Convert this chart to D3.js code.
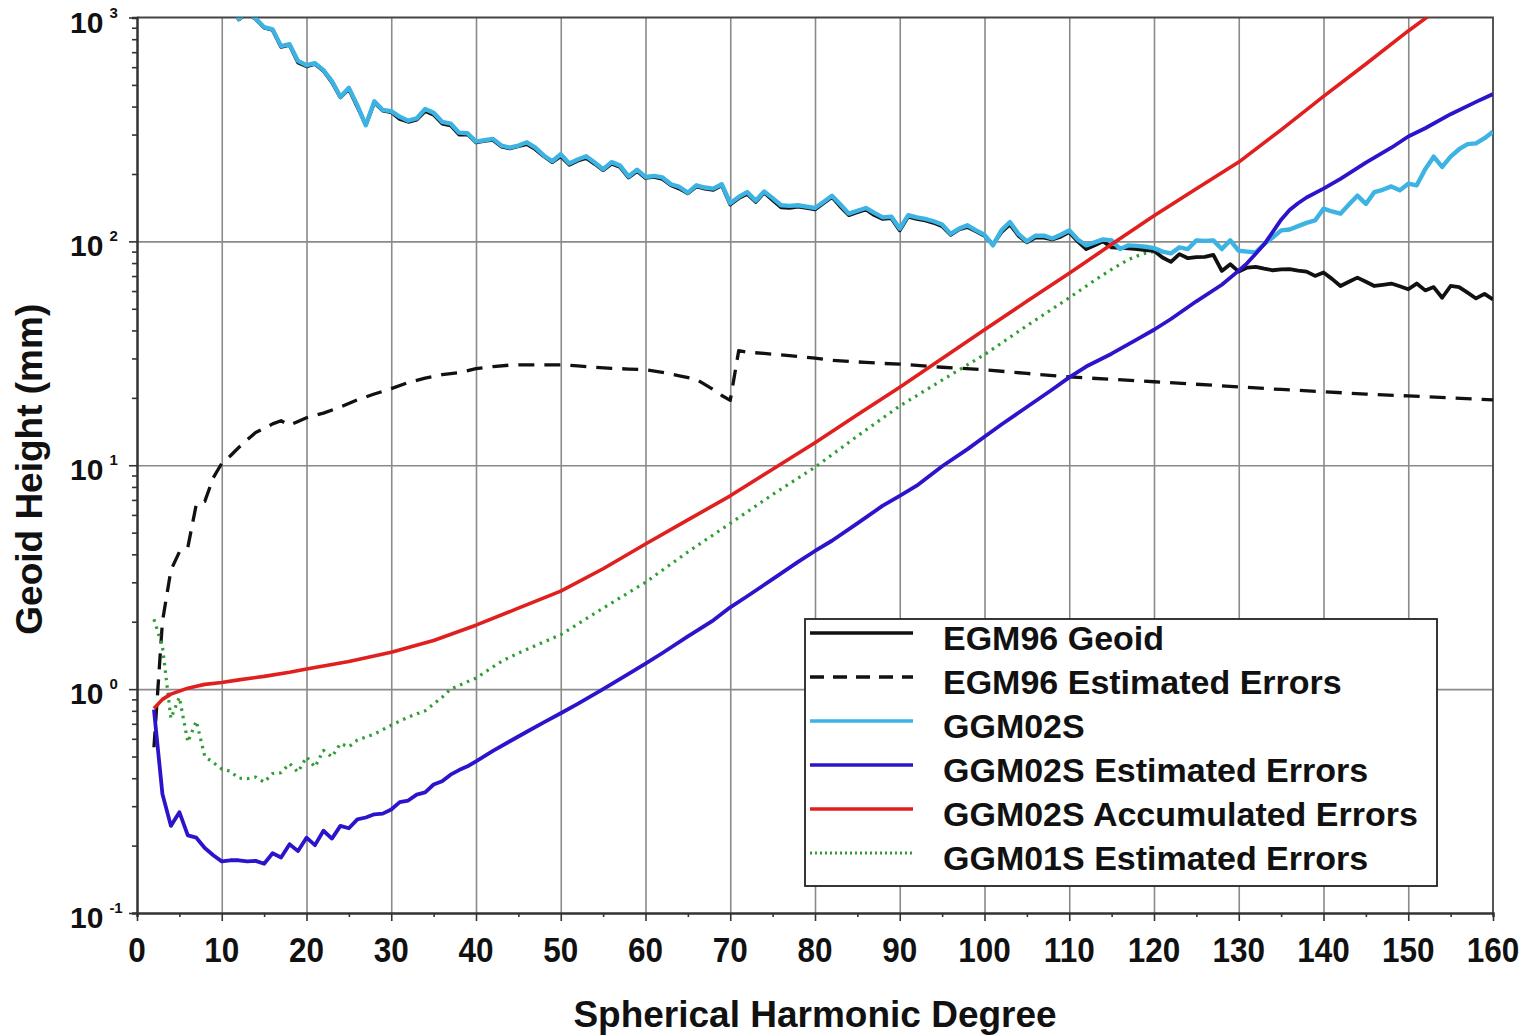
<!DOCTYPE html>
<html>
<head>
<meta charset="utf-8">
<script src="https://cdn.jsdelivr.net/npm/d3@7"></script>
<style>
  body { margin: 0; background: #fff; }
  text { font-family: "Liberation Sans", Arial, Helvetica, sans-serif; font-weight: bold; fill: #111; }
</style>
</head>
<body>
<div id="chart"></div>
<script>
// per-degree series start at degree 2
const firstDegree = 2;

const egm96Geoid = [
  20000, 9500, 5400, 4000, 3100, 2650, 2150, 1850, 1550, 1380,
  980, 1050, 985, 900, 880, 740, 755, 630, 605, 620,
  578, 515, 440, 480, 400, 332, 418, 384, 378, 352,
  342, 350, 382, 368, 336, 330, 300, 301, 277, 281,
  284, 265, 260, 266, 272, 258, 240, 226, 240, 220,
  229, 236, 222, 208, 222, 215, 193, 206, 192, 194,
  190, 178, 172, 164, 176, 172, 170, 178, 146, 156,
  163, 150, 165, 153, 142, 141, 143, 141, 139, 148,
  158, 143, 131, 135, 139, 131, 126, 127, 112, 129,
  126, 124, 121, 117, 107, 113, 116, 111, 106, 97,
  110, 119, 106, 99, 104, 104, 102, 105, 110, 100,
  92.4, 96, 100, 94, 93.5, 93, 92.4, 91.5, 90.8, 84.7,
  81, 87.7, 84.1, 85, 85.3, 87.1, 73.8, 79, 73.3, 76.4,
  76.9, 75.5, 74.3, 75, 75.1, 74, 73.3, 70.1, 72.6, 68,
  63.2, 66, 68.9, 66, 63.2, 64, 64.8, 63, 61.1, 64.8,
  60.4, 62.5, 56, 63.2, 62.5, 59, 55.6, 58.3, 55
];

const ggm02s = [
  18000, 9000, 5200, 3900, 3000, 2600, 2100, 1800, 1500, 1350,
  985, 1060, 990, 905, 885, 745, 760, 640, 612, 625,
  582, 520, 442, 485, 405, 330, 422, 386, 382, 360,
  346, 354, 390, 375, 342, 336, 306, 304, 279, 283,
  287, 268, 262, 268, 277, 262, 242, 228, 245, 223,
  232, 240, 225, 210, 226, 218, 195, 209, 194, 196,
  193, 180, 175, 165, 178, 174, 172, 180, 148, 158,
  166, 152, 167, 156, 145, 144, 145, 143, 141, 150,
  160, 146, 133, 137, 141, 134, 128, 129, 114, 131,
  128, 126, 123, 119, 108, 114, 118, 112, 107, 96,
  112, 122, 108, 100, 106, 106, 103, 107, 112, 102,
  96, 99, 102, 101, 92.5, 96, 95.5, 94.6, 93.3, 90,
  88.3, 94, 92.4, 101, 100.5, 101, 92.4, 101, 90.8, 90,
  89.3, 97.3, 104, 112, 113, 117, 121, 124, 140, 136,
  133, 146, 160, 147, 166, 170, 176, 169, 181, 178,
  210, 239, 215, 239, 258, 272, 274, 289, 309
];

// [degree, mm]
const egm96Errors = [
  [2, 0.55], [3, 2.0], [4, 3.4], [5, 4.1], [6, 4.3], [7, 6.7], [8, 6.9], [9, 8.8], [10, 10.2],
  [11, 11], [12, 12], [13, 13], [14, 14], [15, 14.6], [16, 15.3], [17, 15.8], [18, 15.1], [19, 15.7],
  [20, 16.3], [22, 17.1], [24, 18.2], [26, 19.6], [28, 20.8], [30, 22], [32, 23.4], [34, 24.5],
  [36, 25.4], [38, 25.9], [40, 27], [42, 27.6], [44, 28], [46, 28.1], [48, 28.1], [50, 28.1],
  [52, 27.8], [54, 27.4], [56, 27.1], [58, 26.9], [60, 26.7], [62, 26], [64, 25.1], [66, 24.2],
  [68, 21.8], [69, 20.5], [70, 19.5], [71, 32.5], [72, 32], [74, 31.6], [76, 31.1], [78, 30.6],
  [80, 30.1], [82, 29.4], [84, 29.1], [86, 28.8], [88, 28.5], [90, 28.3], [95, 27.4], [100, 26.7],
  [105, 25.7], [110, 24.8], [115, 24.2], [120, 23.6], [125, 23], [130, 22.4], [135, 21.8],
  [140, 21.3], [145, 20.8], [150, 20.4], [155, 20], [160, 19.6]
];

const ggm02sErrors = [
  [2, 0.81], [3, 0.34], [4, 0.245], [5, 0.282], [6, 0.222], [7, 0.217], [8, 0.195], [9, 0.181],
  [10, 0.170], [11, 0.172], [12, 0.172], [13, 0.170], [14, 0.171], [15, 0.166], [16, 0.185],
  [17, 0.177], [18, 0.203], [19, 0.189], [20, 0.217], [21, 0.201], [22, 0.233], [23, 0.215],
  [24, 0.245], [25, 0.239], [26, 0.262], [27, 0.267], [28, 0.276], [29, 0.278], [30, 0.29],
  [31, 0.313], [32, 0.318], [33, 0.338], [34, 0.346], [35, 0.375], [36, 0.388], [37, 0.415],
  [38, 0.435], [39, 0.452], [40, 0.476], [42, 0.53], [44, 0.585], [46, 0.645], [48, 0.71],
  [50, 0.78], [52, 0.86], [55, 1.0], [58, 1.17], [60, 1.30], [62, 1.45], [65, 1.72], [68, 2.03],
  [70, 2.32], [72, 2.6], [75, 3.1], [78, 3.7], [80, 4.14], [82, 4.6], [85, 5.5], [88, 6.6],
  [90, 7.3], [92, 8.1], [95, 9.9], [98, 11.8], [100, 13.4], [102, 15.2], [105, 18.2], [108, 21.8],
  [110, 24.7], [112, 27.6], [115, 31.5], [118, 36.5], [120, 40.3], [122, 45], [125, 54], [128, 64],
  [130, 74], [131, 80], [132, 88], [133, 97], [134, 110], [135, 125], [136, 138], [137, 148],
  [138, 157], [140, 172], [142, 190], [145, 225], [148, 262], [150, 294], [152, 320], [155, 370],
  [158, 420], [160, 455]
];

const ggm02sAccum = [
  [2, 0.82], [3, 0.9], [4, 0.95], [5, 0.98], [6, 1.01], [7, 1.03], [8, 1.05], [10, 1.07],
  [12, 1.1], [15, 1.14], [18, 1.19], [20, 1.23], [25, 1.33], [30, 1.46], [35, 1.65], [40, 1.93],
  [45, 2.3], [50, 2.74], [55, 3.45], [60, 4.45], [65, 5.7], [70, 7.3], [75, 9.6], [80, 12.6],
  [85, 16.8], [90, 22.3], [95, 30], [100, 40.3], [105, 54], [110, 72], [115, 97], [120, 130],
  [125, 172], [130, 226], [135, 315], [140, 444], [145, 620], [150, 871], [155, 1200]
];

const ggm01sErrors = [
  [2, 2.05], [3, 1.55], [4, 0.74], [5, 0.92], [6, 0.58], [7, 0.72], [8, 0.5], [9, 0.47],
  [10, 0.44], [11, 0.43], [12, 0.40], [13, 0.398], [14, 0.405], [15, 0.384], [16, 0.42],
  [17, 0.423], [18, 0.465], [19, 0.426], [20, 0.498], [21, 0.449], [22, 0.533], [23, 0.498],
  [24, 0.571], [25, 0.552], [26, 0.592], [28, 0.63], [30, 0.69], [32, 0.75], [34, 0.8],
  [36, 0.92], [37, 1.0], [39, 1.08], [40, 1.12], [43, 1.33], [45, 1.45], [50, 1.75], [55, 2.3],
  [60, 3.0], [65, 4.1], [70, 5.5], [75, 7.4], [80, 9.8], [85, 13.5], [90, 18.4], [95, 24],
  [100, 31.2], [105, 42], [110, 56], [113, 67], [115, 75], [117, 83], [118, 86], [119, 88.5], [120, 90]
];

const xTicks = [0, 10, 20, 30, 40, 50, 60, 70, 80, 90, 100, 110, 120, 130, 140, 150, 160];
const yDecades = [0.1, 1, 10, 100, 1000];
const yExponents = ["-1", "0", "1", "2", "3"];

const legendLabels = [
  "EGM96 Geoid", "EGM96 Estimated Errors", "GGM02S", "GGM02S Estimated Errors",
  "GGM02S Accumulated Errors", "GGM01S Estimated Errors"
];

(function geoid_chart() {
  const width = 1537, height = 1036;
  const margin = { left: 137, right: 44, top: 17.5, bottom: 123 };

  const svg = d3.select("#chart")
    .append("svg")
    .attr("width", width)
    .attr("height", height);

  const x = d3.scaleLinear()
    .domain([0, 160])
    .range([margin.left, width - margin.right]);

  const y = d3.scaleLog()
    .domain([0.1, 1000])
    .range([height - margin.bottom, margin.top]);

  const x0 = x.range()[0], x1 = x.range()[1];
  const y0 = y.range()[0], y1 = y.range()[1];

  svg.append("defs").append("clipPath")
    .attr("id", "plot-clip")
    .append("rect")
    .attr("x", x0).attr("y", y1)
    .attr("width", x1 - x0).attr("height", y0 - y1);

  // grid
  svg.append("g")
    .attr("transform", `translate(0,${y0})`)
    .call(d3.axisBottom(x).tickValues(xTicks.slice(1, -1)).tickSize(-(y0 - y1)).tickFormat(""))
    .call(g => g.select(".domain").remove())
    .call(g => g.selectAll("line").attr("stroke", "#8a8a8a").attr("stroke-width", 1.6));

  svg.append("g")
    .attr("transform", `translate(${x0},0)`)
    .call(d3.axisLeft(y).tickValues(yDecades.slice(1, -1)).tickSize(-(x1 - x0)).tickFormat(""))
    .call(g => g.select(".domain").remove())
    .call(g => g.selectAll("line").attr("stroke", "#8a8a8a").attr("stroke-width", 1.6));

  // frame top + right
  svg.append("path")
    .attr("d", `M${x0},${y1}H${x1}V${y0}`)
    .attr("fill", "none")
    .attr("stroke", "#444")
    .attr("stroke-width", 1.8);

  // lines
  const line = d3.line()
    .x(d => x(d[0]))
    .y(d => y(d[1]));

  const perDegree = arr => arr.map((v, i) => [firstDegree + i, v]);

  const series = [
    { data: egm96Errors, color: "#111", width: 3.3, dash: "16,10" },
    { data: ggm01sErrors, color: "#2f9d34", width: 3.2, dash: "2.5,5" },
    { data: perDegree(egm96Geoid), color: "#111", width: 3.8, dash: null },
    { data: perDegree(ggm02s), color: "#3cb3e3", width: 4.4, dash: null },
    { data: ggm02sErrors, color: "#2c14cc", width: 3.8, dash: null },
    { data: ggm02sAccum, color: "#e0201e", width: 3.6, dash: null }
  ];

  svg.append("g")
    .attr("clip-path", "url(#plot-clip)")
    .selectAll("path")
    .data(series)
    .join("path")
    .attr("fill", "none")
    .attr("stroke", d => d.color)
    .attr("stroke-width", d => d.width)
    .attr("stroke-dasharray", d => d.dash)
    .attr("stroke-linejoin", "round")
    .attr("d", d => line(d.data));

  // x axis
  svg.append("g")
    .attr("transform", `translate(0,${y0})`)
    .call(d3.axisBottom(x).tickValues(d3.range(0, 161, 5)).tickSize(4).tickFormat(""))
    .call(g => g.select(".domain").attr("stroke", "#333").attr("stroke-width", 2.5))
    .call(g => g.selectAll("line").attr("stroke", "#333").attr("stroke-width", 1.6))
    .call(g => g.selectAll(".tick").filter(d => d % 10 === 0)
      .select("line").attr("y2", 8));

  svg.append("g")
    .selectAll("text")
    .data(xTicks)
    .join("text")
    .attr("transform", d => `translate(${x(d)},${y0 + 49}) scale(1,1.13)`)
    .attr("text-anchor", "middle")
    .attr("font-size", 31.5)
    .text(d => d);

  // y axis with log minor ticks
  const minorTicks = y.ticks();
  svg.append("g")
    .attr("transform", `translate(${x0},0)`)
    .call(d3.axisLeft(y).tickValues(minorTicks).tickSize(5).tickFormat(""))
    .call(g => g.select(".domain").attr("stroke", "#333").attr("stroke-width", 2.5))
    .call(g => g.selectAll("line").attr("stroke", "#333").attr("stroke-width", 1.6))
    .call(g => g.selectAll(".tick").filter(d => yDecades.includes(d))
      .select("line").attr("x2", -8));

  const yLab = svg.append("g")
    .selectAll("text")
    .data(yDecades)
    .join("text")
    .attr("x", x0 - 67)
    .attr("y", d => y(d) + 15)
    .attr("font-size", 30);
  yLab.append("tspan").text("10");
  yLab.append("tspan")
    .attr("dx", 6)
    .attr("dy", -15)
    .attr("font-size", 15)
    .text((d, i) => yExponents[i]);

  // axis titles
  svg.append("text")
    .attr("x", (x0 + x1) / 2)
    .attr("y", 1027)
    .attr("text-anchor", "middle")
    .attr("font-size", 37)
    .text("Spherical Harmonic Degree");

  svg.append("text")
    .attr("transform", `translate(42,${(y0 + y1) / 2 + 4}) rotate(-90)`)
    .attr("text-anchor", "middle")
    .attr("font-size", 37)
    .text("Geoid Height (mm)");

  // legend
  const legendOrder = [2, 0, 3, 4, 5, 1];
  const legend = svg.append("g").attr("transform", "translate(805,619)");
  legend.append("rect")
    .attr("width", 632).attr("height", 267)
    .attr("fill", "#fff")
    .attr("stroke", "#222")
    .attr("stroke-width", 1.8);

  const row = legend.selectAll("g.row")
    .data(legendLabels)
    .join("g")
    .attr("class", "row")
    .attr("transform", (d, i) => `translate(0,${19 + i * 44})`);

  row.append("line")
    .attr("x1", 5).attr("x2", 108)
    .attr("y1", -5).attr("y2", -5)
    .attr("stroke", (d, i) => series[legendOrder[i]].color)
    .attr("stroke-width", (d, i) => Math.min(series[legendOrder[i]].width, 3.4))
    .attr("stroke-dasharray", (d, i) => series[legendOrder[i]].dash ? (i === 1 ? "14,9" : "2,3") : null);

  row.append("text")
    .attr("x", 138)
    .attr("y", 12)
    .attr("font-size", 34)
    .text(d => d);
})();
</script>
</body>
</html>
